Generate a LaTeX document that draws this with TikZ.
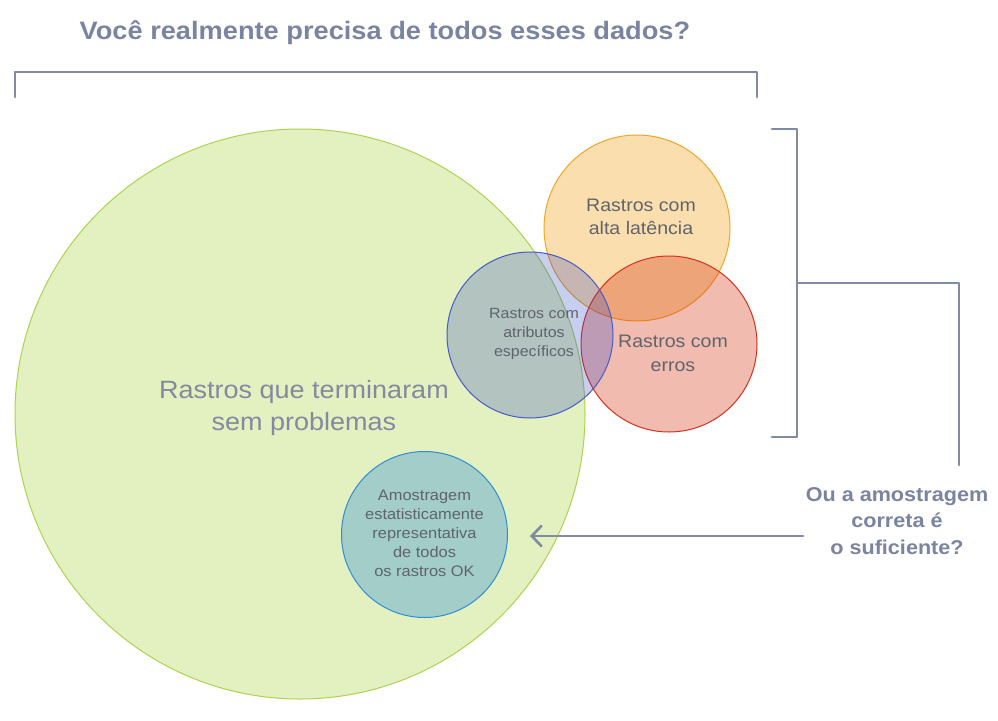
\documentclass[tikz,border=0pt]{standalone}
\usepackage{fontspec}
\setmainfont{Liberation Sans}[FakeStretch=1.08]
\usetikzlibrary{arrows.meta}
\definecolor{ttl}{RGB}{122,132,160}
\definecolor{brk}{RGB}{128,138,165}
\definecolor{txt}{RGB}{95,100,108}
\definecolor{bigtxt}{RGB}{130,137,160}
\definecolor{grfill}{RGB}{227,241,192}
\definecolor{grline}{RGB}{172,210,80}
\definecolor{orfill}{RGB}{245,165,35}
\definecolor{orline}{RGB}{240,165,40}
\definecolor{rdfill}{RGB}{212,49,15}
\definecolor{rdline}{RGB}{215,50,30}
\definecolor{blfill}{RGB}{35,59,195}
\definecolor{blline}{RGB}{70,90,200}
\definecolor{tlfill}{RGB}{163,205,200}
\definecolor{tlline}{RGB}{50,140,210}
\tikzset{
  circ/.style={circle, inner sep=0pt, line width=1pt},
  lbl/.style={align=center, inner sep=0pt, text=txt},
  bracket/.style={draw=brk, line width=2.8pt, line join=round, line cap=round},
  pointer/.style={draw=brk, line width=2.6pt, line cap=round, -{Straight Barb[length=10pt,width=21pt,line width=2.6pt]}},
}
\begin{document}
\begin{tikzpicture}[x=1pt,y=-1pt]
\useasboundingbox (0,0) rectangle (998,720);
% title
\node[font=\bfseries\fontsize{25.2}{30}\selectfont, text=ttl, inner sep=0pt] (title) at (385,33) {Você realmente precisa de todos esses dados?};
% top bracket
\coordinate (tbl) at (15,97);
\coordinate (tbr) at (757,97);
\draw[bracket] (tbl) |- (757,72) -- (tbr);
% circles
\node[circ, fill=grfill, draw=grline, minimum size=570pt] (green) at (300,414) {};
\node[circ, fill=orfill, fill opacity=0.37, draw=orline, minimum size=186pt] (orange) at (637,228) {};
\node[circ, fill=rdfill, fill opacity=0.33, draw=rdline, minimum size=176pt] (red) at (669,344) {};
\node[circ, fill=blfill, fill opacity=0.25, draw=blline, minimum size=166pt] (blue) at (530,335) {};
\node[circ, fill=tlfill, draw=tlline, minimum size=166pt] (teal) at (424.5,534.5) {};
% labels
\node[lbl, text=bigtxt, font=\fontsize{25}{32}\selectfont] (tbig) at (304,408) {Rastros que terminaram\\sem problemas};
\node[lbl, font=\fontsize{18.1}{23}\selectfont] (tlat) at (641,217) {Rastros com\\alta latência};
\node[lbl, font=\fontsize{18.1}{24}\selectfont] (terr) at (673,353) {Rastros com\\erros};
\node[lbl, font=\fontsize{14.8}{19}\selectfont] (tatr) at (534,334) {Rastros com\\atributos\\específicos};
\node[lbl, font=\fontsize{15.2}{19}\selectfont] (tams) at (424.5,533) {Amostragem\\estatisticamente\\representativa\\de todos\\os rastros OK};
% right bracket
\coordinate (rbt) at (772,129);
\coordinate (rbb) at (772,437);
\coordinate (rbm) at (797,283);
\coordinate (rbe) at (959,465);
\draw[bracket] (rbt) -| (797,437) -- (rbb);
\draw[bracket] (rbm) -| (rbe);
% question
\node[font=\bfseries\fontsize{20}{26.5}\selectfont, text=ttl, align=center, inner sep=0pt] (quest) at (897,521) {Ou a amostragem\\correta é\\o suficiente?};
% arrow
\coordinate (astart) at (803,536);
\coordinate (aend) at (530,536);
\draw[pointer] (astart) -- (aend);
\end{tikzpicture}
\end{document}
